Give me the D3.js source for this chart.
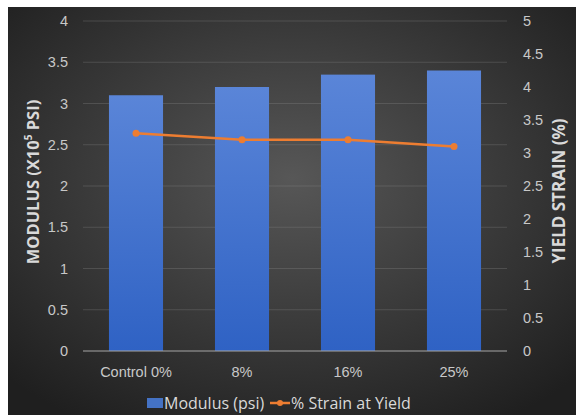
<!DOCTYPE html>
<html>
<head>
<meta charset="utf-8">
<script src="https://cdn.jsdelivr.net/npm/d3@7"></script>
<style>
  html, body { margin: 0; padding: 0; background: #fff; }
  svg { display: block; font-family: "Open Sans", "Noto Sans", sans-serif; }
</style>
</head>
<body>
<div id="chart"></div>
<script>
// chart values
const categories = ["Control 0%", "8%", "16%", "25%"];
const modulus = [3.1, 3.2, 3.35, 3.4];      // x10^5 psi
const strain = [3.3, 3.2, 3.2, 3.1];        // % strain at yield
const leftTicks = [0, 0.5, 1, 1.5, 2, 2.5, 3, 3.5, 4];
const rightTicks = [0, 0.5, 1, 1.5, 2, 2.5, 3, 3.5, 4, 4.5, 5];

const width = 576, height = 415;
const margin = {top: 21, right: 69, bottom: 64, left: 83};

const svg = d3.select("#chart").append("svg")
    .attr("width", width)
    .attr("height", height);

// dark radial background
const defs = svg.append("defs");
const bg = defs.append("radialGradient").attr("id", "bg")
    .attr("cx", "50%").attr("cy", "42%").attr("r", "70%");
bg.append("stop").attr("offset", "0%").attr("stop-color", "#575757");
bg.append("stop").attr("offset", "100%").attr("stop-color", "#1f1f1f");

const barGrad = defs.append("linearGradient").attr("id", "bar")
    .attr("x1", 0).attr("y1", 0).attr("x2", 0).attr("y2", 1);
barGrad.append("stop").attr("offset", "0%").attr("stop-color", "#5a85d8");
barGrad.append("stop").attr("offset", "100%").attr("stop-color", "#2f62c4");

svg.append("rect")
    .attr("x", 8).attr("y", 7)
    .attr("width", width - 8).attr("height", height - 7)
    .attr("fill", "url(#bg)");

const x = d3.scaleBand()
    .domain(categories)
    .range([margin.left, width - margin.right])
    .paddingInner(0.49)
    .paddingOuter(0.245);

const yLeft = d3.scaleLinear().domain([0, 4]).range([height - margin.bottom, margin.top]);
const yRight = d3.scaleLinear().domain([0, 5]).range([height - margin.bottom, margin.top]);

// gridlines
svg.append("g").selectAll("line")
    .data(leftTicks.filter(d => d > 0))
    .join("line")
    .attr("x1", margin.left).attr("x2", width - margin.right)
    .attr("y1", d => yLeft(d)).attr("y2", d => yLeft(d))
    .attr("stroke", "#8a8a8a").attr("stroke-opacity", 0.3).attr("stroke-width", 1);

// bars
svg.append("g").selectAll("rect")
    .data(modulus)
    .join("rect")
    .attr("x", (d, i) => x(categories[i]))
    .attr("width", x.bandwidth())
    .attr("y", d => yLeft(d))
    .attr("height", d => yLeft(0) - yLeft(d))
    .attr("fill", "url(#bar)");

// baseline
svg.append("line")
    .attr("x1", margin.left).attr("x2", width - margin.right)
    .attr("y1", yLeft(0)).attr("y2", yLeft(0))
    .attr("stroke", "#a6a6a6").attr("stroke-width", 1);

// strain line
const cx = (d, i) => x(categories[i]) + x.bandwidth() / 2;
svg.append("path")
    .datum(strain)
    .attr("fill", "none")
    .attr("stroke", "#ed7d31")
    .attr("stroke-width", 2.5)
    .attr("d", d3.line().x(cx).y(d => yRight(d)));

svg.append("g").selectAll("circle")
    .data(strain)
    .join("circle")
    .attr("cx", cx)
    .attr("cy", d => yRight(d))
    .attr("r", 3.5)
    .attr("fill", "#ed7d31");

// left axis
const axisLeft = d3.axisLeft(yLeft).tickValues(leftTicks).tickSize(0).tickPadding(15)
    .tickFormat(d3.format("~g"));
const gl = svg.append("g").attr("transform", `translate(${margin.left},0)`).call(axisLeft);
gl.select(".domain").remove();
gl.selectAll("text").attr("fill", "#c8c8c8").attr("font-size", 14.5);

// right axis
const axisRight = d3.axisRight(yRight).tickValues(rightTicks).tickSize(0).tickPadding(16)
    .tickFormat(d3.format("~g"));
const gr = svg.append("g").attr("transform", `translate(${width - margin.right},0)`).call(axisRight);
gr.select(".domain").remove();
gr.selectAll("text").attr("fill", "#c8c8c8").attr("font-size", 14.5);

// category axis
const axisBottom = d3.axisBottom(x).tickSize(0).tickPadding(16);
const gb = svg.append("g").attr("transform", `translate(0,${height - margin.bottom})`).call(axisBottom);
gb.select(".domain").remove();
gb.selectAll("text").attr("fill", "#c8c8c8").attr("font-size", 14.5);

// axis titles
const lt = svg.append("text")
    .attr("transform", "translate(39,182) rotate(-90)")
    .attr("text-anchor", "middle")
    .attr("fill", "#d9d9d9").attr("font-size", 16.5).attr("font-weight", "bold");
lt.append("tspan").text("MODULUS (X10");
lt.append("tspan").attr("baseline-shift", "super").attr("font-size", 10).text("5");
lt.append("tspan").text(" PSI)");

svg.append("text")
    .attr("transform", "translate(565,191) rotate(-90)")
    .attr("text-anchor", "middle")
    .attr("fill", "#d9d9d9").attr("font-size", 17).attr("font-weight", "bold")
    .text("YIELD STRAIN (%)");

// legend
const lg = svg.append("g").attr("transform", "translate(0,403)");
lg.append("rect").attr("x", 147).attr("y", -5).attr("width", 16).attr("height", 10).attr("fill", "#4472c4");
lg.append("text").attr("x", 164).attr("y", 6).attr("fill", "#d9d9d9").attr("font-size", 16).text("Modulus (psi)");
lg.append("line").attr("x1", 270).attr("x2", 290).attr("y1", 0).attr("y2", 0)
    .attr("stroke", "#ed7d31").attr("stroke-width", 2.5);
lg.append("circle").attr("cx", 280).attr("cy", 0).attr("r", 3).attr("fill", "#ed7d31");
lg.append("text").attr("x", 291).attr("y", 6).attr("fill", "#d9d9d9").attr("font-size", 16).text("% Strain at Yield");
</script>
</body>
</html>
